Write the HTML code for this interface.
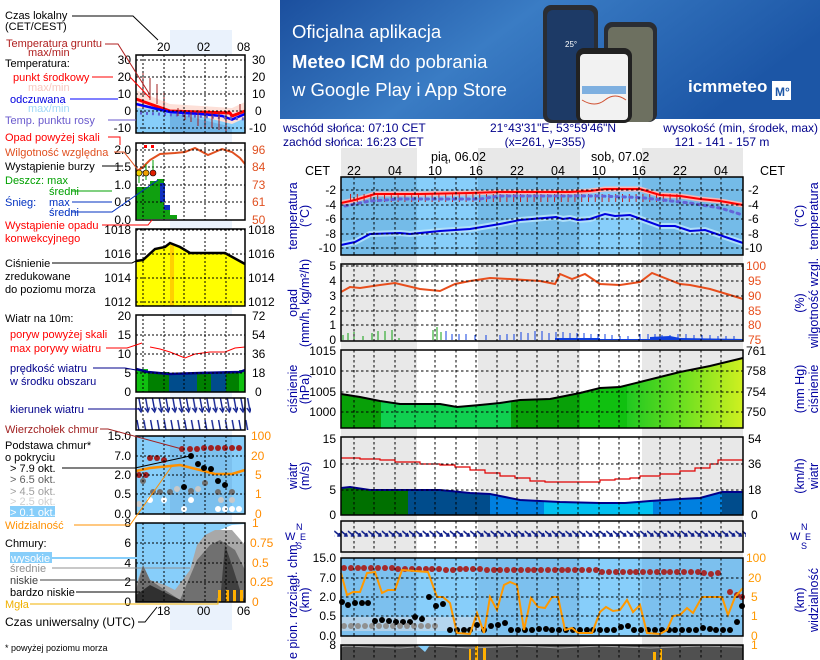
<!DOCTYPE html>
<html><head><meta charset="utf-8"><style>
html,body{margin:0;padding:0;background:#fff;}
svg{display:block;font-family:"Liberation Sans",sans-serif;}
</style></head><body>
<svg width="820" height="660" viewBox="0 0 820 660" xmlns="http://www.w3.org/2000/svg">
<defs>
<linearGradient id="bn" x1="0" y1="0" x2="1" y2="0.3"><stop offset="0" stop-color="#1b4f9e"/><stop offset="0.45" stop-color="#3a7cc4"/><stop offset="1" stop-color="#1c56a6"/></linearGradient>
<linearGradient id="pg" x1="0" y1="0" x2="1" y2="0"><stop offset="0" stop-color="#20c820"/><stop offset="0.5" stop-color="#70e020"/><stop offset="1" stop-color="#d0f020"/></linearGradient>
<pattern id="gt" x="350" y="0" width="6.8" height="10" patternUnits="userSpaceOnUse"><rect x="0" y="0" width="1" height="10" fill="#c02020"/></pattern>
<pattern id="wd" x="341" y="0" width="6.8" height="12" patternUnits="userSpaceOnUse"><path d="M0,3 L6,8 M3,8 L6,8 L5,5" stroke="#10208a" stroke-width="1.6" fill="none"/></pattern>
<pattern id="wdl" x="136" y="0" width="6.8" height="32" patternUnits="userSpaceOnUse"><path d="M1,4 L5,26 M2,24 L5,28 L7,23" stroke="#102090" stroke-width="1.4" fill="none"/></pattern>
<clipPath id="pc"><path d="M341,394 L360,397 380,401 400,404 440,404 457,407 480,405 500,403 520,400 550,399 580,393 600,388 620,387 640,382 680,372 710,366 743,358 L743,428 L341,428 Z"/></clipPath>
<clipPath id="wc"><path d="M341,488 L350,487 370,490 400,490 440,490 470,493 490,494 520,500 560,502 600,503 625,503 650,501 680,499 700,498 722,492 743,492 L743,515 L341,515 Z"/></clipPath>
</defs>

<rect x="280" y="0" width="540" height="119" fill="url(#bn)"/>
<text x="292" y="38" font-size="18.5" fill="#fff">Oficjalna aplikacja</text>
<text x="292" y="68" font-size="18.5" fill="#fff"><tspan font-weight="bold">Meteo ICM</tspan> do pobrania</text>
<text x="292" y="96" font-size="18.5" fill="#fff">w Google Play i App Store</text>
<rect x="543" y="5" width="55" height="118" rx="8" fill="#2a2d33"/>
<rect x="547" y="10" width="47" height="110" rx="6" fill="#1d3a66"/>
<text x="565" y="47" font-size="8" fill="#fff">25°</text>
<rect x="604" y="22" width="53" height="100" rx="8" fill="#2a2d33"/>
<rect x="608" y="27" width="45" height="95" rx="5" fill="#6d7060"/>
<rect x="576" y="48" width="56" height="75" rx="8" fill="#222"/>
<rect x="580" y="54" width="48" height="66" rx="4" fill="#f2f2f2"/>
<rect x="582" y="86" width="44" height="8" fill="#7fb0e0"/>
<path d="M582,100 Q595,108 605,100 T626,100" stroke="#d05030" fill="none"/>
<text x="688" y="92" font-size="17" font-weight="bold" fill="#fff">icmmeteo</text>
<rect x="772" y="81" width="19" height="19" fill="#fff"/>
<text x="775" y="96" font-size="12" font-weight="bold" fill="#1c56a6">M°</text>

<rect x="170" y="30" width="62" height="600" fill="#eaf2fc"/>

<rect x="136" y="55" width="109" height="78" fill="#fff"/>
<path d="M136,90 L170,104 L232,108 L245,102 L245,133 L136,133 Z" fill="#fde0d8"/>
<path d="M136,108 L170,110 L200,116 L232,124 L245,118 L245,133 L136,133 Z" fill="#87cefa"/>
<path d="M170,112 L232,127 L232,133 L170,133 Z" fill="#70b4e6"/>
<path d="M136,99 L170,111 L230,113 L232,116 L245,111" stroke="#ff0000" stroke-width="3" fill="none"/>
<path d="M136,104 L170,112 L200,114 L222,116 L232,119.5 L245,114" stroke="#0000ff" stroke-width="2.5" fill="none"/>
<path d="M140,113 L245,119" stroke="#6060d0" stroke-width="3" stroke-dasharray="2 4" fill="none"/>
<g stroke="#a02020" stroke-width="1"><path d="M143,73V96M150,78V100M157,84V104M164,92V108M178,108V116M185,110V120M191,112V122M198,110V126M205,110V128M212,112V128M219,112V130M226,112V133M240,104V114"/></g>
<g stroke="#000" stroke-dasharray="2 2" stroke-width="1"><path d="M143,55V133M164,55V133M184,55V133M205,55V133M226,55V133M136,60H245M136,77H245M136,94H245M136,111H245M136,128H245"/></g>
<rect x="136" y="55" width="109" height="78" fill="none" stroke="#000" stroke-width="1.5"/>

<rect x="136" y="143" width="109" height="77" fill="#fff"/>
<path d="M136,187 L150,187 L150,181 L157,181 L157,179 L164,179 L164,219 L136,219Z" fill="#10a010"/>
<path d="M160,183 L165,183 L165,202 L160,202 Z" fill="#1030c0"/>
<path d="M164,205 L170,205 L170,210 L164,210 Z" fill="#1030c0"/>
<path d="M164,210 L170,210 L170,215 L177,215 L177,219 L164,219Z" fill="#10a010"/>
<path d="M136,172 L143,167 L150,160 L160,154 L175,153 L185,152 L195,148 L208,155 L222,149 L232,152 L240,158 L245,164" stroke="#e05020" stroke-width="2" fill="none"/>
<g stroke="#000" stroke-dasharray="2 2"><path d="M143,143V220M164,143V220M184,143V220M205,143V220M226,143V220M136,150H245M136,167H245M136,185H245M136,202H245"/></g>
<g stroke="#00a000"><path d="M139,174V183M146,164V180M153,160V176"/></g>
<circle cx="139" cy="173" r="3" fill="#f0d000" stroke="#000" stroke-width=".6"/><circle cx="146" cy="173" r="3" fill="#f0a000" stroke="#000" stroke-width=".6"/><circle cx="153" cy="173" r="3" fill="#e02000" stroke="#000" stroke-width=".6"/>
<rect x="144" y="145" width="3" height="3" fill="#f00"/><rect x="151" y="145" width="3" height="3" fill="#f00"/>
<rect x="136" y="143" width="109" height="77" fill="none" stroke="#000" stroke-width="1.5"/>

<rect x="136" y="229" width="109" height="77" fill="#fff"/>
<path d="M136,261 L143,260 L155,249 L165,247 L170,243 L180,247 L190,253 L225,253 L245,264 L245,306 L136,306 Z" fill="#ffff00"/>
<rect x="170" y="245" width="4" height="61" fill="#ffd000"/>
<path d="M136,261 L143,260 L155,249 L165,247 L170,243 L180,247 L190,253 L225,253 L245,264" stroke="#000" stroke-width="2.5" fill="none"/>
<g stroke="#000" stroke-dasharray="2 2"><path d="M143,229V306M164,229V306M184,229V306M205,229V306M226,229V306M136,230H245M136,254H245M136,278H245M136,302H245"/></g>
<rect x="136" y="229" width="109" height="77" fill="none" stroke="#000" stroke-width="1.5"/>

<rect x="136" y="315" width="109" height="77" fill="#fff"/>
<rect x="136" y="369" width="12" height="23" fill="#10c010"/><rect x="148" y="372" width="21" height="20" fill="#008000"/>
<rect x="169" y="374" width="28" height="18" fill="#004c8c"/><rect x="197" y="373" width="14" height="19" fill="#008000"/>
<rect x="211" y="373" width="15" height="19" fill="#004c8c"/><rect x="226" y="372" width="13" height="20" fill="#008000"/><rect x="239" y="370" width="6" height="22" fill="#10c010"/>
<path d="M136,369 L148,372 L169,374 L200,373 L240,372 L245,370" stroke="#00008b" stroke-width="2.5" fill="none"/>
<path d="M150,347 L160,349 L170,352 L180,356 L185,358 L195,354 L210,352 L225,352 L235,348 L245,347" stroke="#f00" fill="none"/>
<g stroke="#000" stroke-dasharray="2 2"><path d="M143,315V392M164,315V392M184,315V392M205,315V392M226,315V392M136,335H245M136,354H245M136,373H245"/></g>
<rect x="136" y="315" width="109" height="77" fill="none" stroke="#000" stroke-width="1.5"/>

<rect x="136" y="398" width="109" height="32" fill="#fff"/>
<rect x="136" y="398" width="115" height="32" fill="url(#wdl)"/>
<g stroke="#000" stroke-dasharray="2 2"><path d="M143,398V430M164,398V430M184,398V430M205,398V430M226,398V430"/></g>
<rect x="136" y="398" width="109" height="32" fill="none" stroke="#000" stroke-width="1.5"/>

<rect x="136" y="436" width="109" height="78" fill="#87cefa"/>
<rect x="170" y="436" width="62" height="78" fill="#7cc0ee"/>
<path d="M136,471 L150,468 L170,466 L180,465 L200,470 L215,474 L232,474 L245,470" stroke="#ff9000" stroke-width="2.5" fill="none"/>
<g fill="#a02020"><circle cx="182" cy="449" r="3"/><circle cx="190" cy="449" r="3"/><circle cx="197" cy="449" r="3"/><circle cx="204" cy="448" r="3"/><circle cx="211" cy="448" r="3"/><circle cx="218" cy="448" r="3"/><circle cx="225" cy="448" r="3"/><circle cx="232" cy="448" r="3"/><circle cx="239" cy="448" r="3"/><circle cx="150" cy="458" r="3"/><circle cx="157" cy="458" r="3"/><circle cx="164" cy="460" r="3"/><circle cx="139" cy="475" r="3"/><circle cx="146" cy="475" r="3"/></g>
<g fill="#000"><circle cx="191" cy="456" r="3"/><circle cx="198" cy="464" r="3"/><circle cx="204" cy="468" r="3"/><circle cx="211" cy="469" r="3"/><circle cx="218" cy="481" r="3"/><circle cx="225" cy="485" r="3"/><circle cx="184" cy="487" r="3"/></g>
<g fill="#707070"><circle cx="153" cy="492" r="3"/><circle cx="160" cy="492" r="3"/><circle cx="170" cy="492" r="3"/><circle cx="191" cy="491" r="3"/><circle cx="205" cy="483" r="3"/><circle cx="218" cy="492" r="3"/><circle cx="232" cy="492" r="3"/><circle cx="143" cy="481" r="3"/></g>
<g fill="#c8c8c8"><circle cx="177" cy="489" r="3"/><circle cx="198" cy="489" r="3"/><circle cx="221" cy="500" r="3"/><circle cx="232" cy="500" r="3"/><circle cx="139" cy="504" r="3"/></g>
<g fill="#fff"><circle cx="150" cy="500" r="3"/><circle cx="164" cy="500" r="3"/><circle cx="184" cy="509" r="3"/><circle cx="191" cy="500" r="3"/><circle cx="218" cy="509" r="3"/><circle cx="225" cy="509" r="3"/><circle cx="232" cy="509" r="3"/><circle cx="239" cy="509" r="3"/></g>
<g stroke="#000" stroke-dasharray="2 2"><path d="M143,436V514M164,436V514M184,436V514M205,436V514M226,436V514M136,456H245M136,475H245M136,494H245"/></g>
<rect x="136" y="436" width="109" height="78" fill="none" stroke="#000" stroke-width="1.5"/>

<rect x="136" y="523" width="109" height="79" fill="#87cefa"/>
<path d="M180,602 L185,580 L200,560 L210,540 L220,530 L232,525 L245,524 L245,602 Z" fill="#fff"/>
<path d="M136,602 L136,585 L143,565 L150,580 L165,585 L175,590 L190,570 L197,545 L205,535 L215,530 L232,530 L245,545 L245,602 Z" fill="#a8a8a8"/>
<path d="M136,602 L136,590 L143,565 L150,580 L165,590 L180,600 L197,560 L210,545 L220,540 L235,550 L245,570 L245,602 Z" fill="#707070"/>
<path d="M136,602 L136,595 L150,585 L170,595 L185,602 Z" fill="#303030"/>
<path d="M225,545 L232,565 L240,590 L245,602 L220,602 Z" fill="#404040"/>
<g fill="#ffb000"><rect x="218" y="590" width="3" height="12"/><rect x="226" y="590" width="3" height="12"/><rect x="233" y="590" width="3" height="12"/><rect x="240" y="590" width="3" height="12"/></g>
<g stroke="#000" stroke-dasharray="2 2"><path d="M143,523V602M164,523V602M184,523V602M205,523V602M226,523V602M136,543H245M136,563H245M136,582H245"/></g>
<rect x="136" y="523" width="109" height="79" fill="none" stroke="#000" stroke-width="1.5"/>

<g font-size="11" fill="#000">
<text x="5" y="19">Czas lokalny</text><text x="5" y="30">(CET/CEST)</text>
<text x="6" y="47" fill="#b02020">Temperatura gruntu</text><text x="28" y="56" fill="#b02020">max/min</text>
<text x="5" y="67">Temperatura:</text>
<text x="13" y="81" fill="#ff0000">punkt środkowy</text>
<text x="28" y="91" fill="#f8c8c0">max/min</text>
<text x="10" y="103" fill="#0000e0">odczuwana</text>
<text x="28" y="112" fill="#a0d8f8">max/min</text>
<text x="5" y="124" fill="#6a5acd">Temp. punktu rosy</text>
<text x="5" y="141" fill="#ff0000">Opad powyżej skali</text>
<text x="5" y="156" fill="#e05020">Wilgotność względna</text>
<text x="5" y="170">Wystąpienie burzy</text>
<text x="5" y="184" fill="#00a000">Deszcz: max</text>
<text x="49" y="195" fill="#00a000">średni</text>
<text x="5" y="206" fill="#0030c0">Śnieg:</text><text x="49" y="206" fill="#0030c0">max</text>
<text x="49" y="216" fill="#0030c0">średni</text>
<text x="5" y="229" fill="#ff0000">Wystąpienie opadu</text>
<text x="5" y="242" fill="#ff0000">konwekcyjnego</text>
<text x="5" y="267">Ciśnienie</text><text x="5" y="280">zredukowane</text><text x="5" y="293">do poziomu morza</text>
<text x="5" y="322">Wiatr na 10m:</text>
<text x="10" y="338" fill="#ff0000">poryw powyżej skali</text>
<text x="10" y="352" fill="#ff0000">max porywy wiatru</text>
<text x="10" y="372" fill="#00008b">prędkość wiatru</text>
<text x="10" y="385" fill="#00008b">w środku obszaru</text>
<text x="10" y="413" fill="#00008b">kierunek wiatru</text>
<text x="5" y="433" fill="#a02020">Wierzchołek chmur</text>
<text x="5" y="449">Podstawa chmur*</text><text x="5" y="461">o pokryciu</text>
<text x="10" y="472">&gt; 7.9 okt.</text>
<text x="10" y="483" fill="#606060">&gt; 6.5 okt.</text>
<text x="10" y="495" fill="#a0a0a0">&gt; 4.5 okt.</text>
<text x="10" y="505" fill="#d0d0d0">&gt; 2.5 okt.</text>
<rect x="10" y="506" width="45" height="11" fill="#87cefa"/>
<text x="10" y="516" fill="#fff">&gt; 0.1 okt.</text>
<text x="5" y="529" fill="#ff9000">Widzialność</text>
<text x="5" y="547">Chmury:</text>
<rect x="10" y="552" width="42" height="11" fill="#87cefa"/>
<text x="11" y="562" fill="#fff">wysokie</text>
<text x="10" y="572" fill="#909090">średnie</text>
<text x="10" y="584" fill="#404040">niskie</text>
<text x="10" y="596">bardzo niskie</text>
<text x="5" y="608" fill="#f0b000">Mgła</text>
<text x="5" y="626" font-size="12">Czas uniwersalny (UTC)</text>
<text x="5" y="651" font-size="9">* powyżej poziomu morza</text>
<text x="157" y="51" font-size="12">20</text><text x="197" y="51" font-size="12">02</text><text x="237" y="51" font-size="12">08</text>
<text x="157" y="615" font-size="12">18</text><text x="197" y="615" font-size="12">00</text><text x="237" y="615" font-size="12">06</text>
</g>
<g font-size="12" text-anchor="end">
<text x="131" y="64">30</text><text x="131" y="81">20</text><text x="131" y="98">10</text><text x="131" y="115">0</text><text x="131" y="132">-10</text>
<text x="131" y="154">2.0</text><text x="131" y="171">1.5</text><text x="131" y="189">1.0</text><text x="131" y="206">0.5</text><text x="131" y="224">0.0</text>
<text x="131" y="234">1018</text><text x="131" y="258">1016</text><text x="131" y="282">1014</text><text x="131" y="306">1012</text>
<text x="131" y="320">20</text><text x="131" y="339">15</text><text x="131" y="358">10</text><text x="131" y="377">5</text><text x="131" y="396">0</text>
<text x="131" y="440">15.0</text><text x="131" y="460">7.0</text><text x="131" y="479">2.0</text><text x="131" y="498">0.5</text><text x="131" y="518">0.0</text>
<text x="131" y="527">8</text><text x="131" y="547">6</text><text x="131" y="567">4</text><text x="131" y="586">2</text><text x="131" y="606">0</text>
</g>
<g font-size="12">
<text x="252" y="64">30</text><text x="252" y="81">20</text><text x="252" y="98">10</text><text x="255" y="115">0</text><text x="249" y="132">-10</text>
<g fill="#e05020"><text x="252" y="154">96</text><text x="252" y="171">84</text><text x="252" y="189">73</text><text x="252" y="206">61</text><text x="252" y="224">50</text></g>
<text x="248" y="234">1018</text><text x="248" y="258">1016</text><text x="248" y="282">1014</text><text x="248" y="306">1012</text>
<text x="252" y="320">72</text><text x="252" y="339">54</text><text x="252" y="358">36</text><text x="252" y="377">18</text><text x="255" y="396">0</text>
<g fill="#ff8c00"><text x="251" y="440">100</text><text x="251" y="460">20</text><text x="255" y="479">5</text><text x="255" y="498">1</text><text x="255" y="518">0</text>
<text x="252" y="527">1</text><text x="250" y="547">0.75</text><text x="252" y="567">0.5</text><text x="250" y="586">0.25</text><text x="252" y="606">0</text></g>
</g>
<g fill="none" stroke-width="1">
<path d="M72,16 H133 L158,40" stroke="#000"/>
<path d="M105,44 H118 L150,95" stroke="#b02020"/>
<path d="M92,77 H113 M130,77 L150,98" stroke="#f00"/>
<path d="M70,99 H118" stroke="#00f"/>
<path d="M108,120 H136" stroke="#6a5acd"/>
<path d="M108,137 H120 V145" stroke="#f00"/>
<path d="M114,152 H124 L138,170" stroke="#e05020"/>
<path d="M102,166 H123" stroke="#000"/>
<path d="M72,191 H112" stroke="#00a000"/><path d="M72,212 H112 L158,180" stroke="#0030c0"/><path d="M72,202 H112" stroke="#0030c0"/>
<path d="M102,225 H148 L152,220" stroke="#f00"/>
<path d="M52,263 H132 L136,261" stroke="#000"/>
<path d="M106,348 H127 L142,343" stroke="#f00"/>
<path d="M93,368 H125 L136,370" stroke="#00008b"/>
<path d="M88,409 H140" stroke="#00008b"/>
<path d="M100,429 H108 L182,449" stroke="#a02020"/>
<path d="M62,468 H135 L190,456" stroke="#000"/>
<path d="M74,525 H130 L172,466" stroke="#ff9000"/>
<path d="M52,558 H180" stroke="#87cefa" stroke-width="2"/>
<path d="M52,568 H190" stroke="#909090"/><path d="M40,580 H136" stroke="#404040"/><path d="M76,592 H140" stroke="#000"/>
<path d="M30,604 H218 V598" stroke="#f0b000"/>
<path d="M138,622 H145 L157,607" stroke="#000"/>
</g>

<g font-size="12" fill="#00008b">
<text x="283" y="132">wschód słońca: 07:10 CET</text>
<text x="283" y="146">zachód słońca: 16:23 CET</text>
<text x="553" y="132" text-anchor="middle">21°43'31"E, 53°59'46"N</text>
<text x="545" y="146" text-anchor="middle">(x=261,  y=355)</text>
<text x="818" y="132" text-anchor="end">wysokość (min, środek, max)</text>
<text x="722" y="146" text-anchor="middle">121 - 141 - 157 m</text>
</g>
<rect x="341" y="148" width="76" height="512" fill="#e8e8e8"/>
<rect x="478" y="148" width="102" height="512" fill="#e8e8e8"/>
<rect x="642" y="148" width="101" height="512" fill="#e8e8e8"/>
<g font-size="12.5" fill="#000">
<text x="431" y="161">pią, 06.02</text><text x="591" y="161">sob, 07.02</text>
<text x="305" y="175">CET</text><text x="760" y="175">CET</text>
<g text-anchor="middle"><text x="354" y="175">22</text><text x="395" y="175">04</text><text x="435" y="175">10</text><text x="476" y="175">16</text><text x="517" y="175">22</text><text x="558" y="175">04</text><text x="599" y="175">10</text><text x="639" y="175">16</text><text x="680" y="175">22</text><text x="721" y="175">04</text></g>
</g>

<rect x="341" y="177" width="402" height="78" fill="#74bbe8"/>
<rect x="417" y="177" width="61" height="78" fill="#87cefa"/><rect x="580" y="177" width="62" height="78" fill="#87cefa"/>
<path d="M341,245 L355,242 370,234 400,233 410,234 440,231 470,229 500,224 520,220 556,217 563,219 570,218 578,220 590,219 605,214 615,216 630,215 660,226 675,226 690,231 705,230 743,243" stroke="#b0e0fa" stroke-width="6" fill="none"/>
<path d="M341,203 L355,200 375,194 420,194 470,193 500,192 540,192 570,192 590,191 605,189 640,189 660,195 680,196 700,199 720,201 743,205" stroke="#f8b8b8" stroke-width="5" fill="none"/>
<rect x="345" y="194" width="335" height="8" fill="url(#gt)"/>
<path d="M345,206 L370,201 L400,199 L480,199 L500,196 L600,196 L640,197.5 L690,203 L720,208 L743,215" stroke="#6464d8" stroke-width="3" stroke-dasharray="2.4 4.4" stroke-linecap="round" fill="none"/>
<path d="M341,203 L355,200 375,194 420,194 470,193 500,192 540,192 570,192 590,191 605,189 640,189 660,195 680,196 700,199 720,201 743,205" stroke="#ff0000" stroke-width="2" fill="none"/>
<path d="M341,245 L355,242 370,234 400,233 410,234 440,231 470,229 500,224 520,220 556,217 563,219 570,218 578,220 590,219 605,214 615,216 630,215 660,226 675,226 690,231 705,230 743,243" stroke="#0000e0" stroke-width="2" fill="none"/>

<path d="M341,292 L350,287 360,288 380,285 395,283 420,289 440,291 455,284 470,281 490,278 510,279 540,281 555,284 560,274 572,279 585,274 600,284 620,285 640,282 652,273 680,284 690,285 710,289 730,295 743,299" stroke="#e84e1c" stroke-width="2" fill="none"/>
<g stroke="#10a010"><path d="M343,340V335M348,340V333M354,340V332M363,340V336M372,340V333M378,340V331M385,340V331M392,340V330M399,340V338M433,340V330M437,340V327M441,340V332"/></g>
<g stroke="#1040e0"><path d="M446,340V331M452,340V334M459,340V334M466,340V334M475,340V335M486,340V335M500,340V335M507,340V334M514,340V334M521,340V332M528,340V333M535,340V331M542,340V331M549,340V333M556,340V332M563,340V332M570,340V333M577,340V333M584,340V333M591,340V334M598,340V334M605,340V334M612,340V335M620,340V336M628,340V336M640,340V334M648,340V334M655,340V334M662,340V335M670,340V335M678,340V334M686,340V334M694,340V335M702,340V335M710,340V335M718,340V336M726,340V336M734,340V336"/></g>
<path d="M555,340 L555,338 L600,338 L600,339 L650,339 L650,337 L670,336 L680,338 L743,339 L743,340Z" fill="#1040e0"/>

<g clip-path="url(#pc)">
<rect x="341" y="350" width="40" height="80" fill="#08a008"/>
<rect x="381" y="350" width="130" height="80" fill="#10d050"/>
<rect x="511" y="350" width="69" height="80" fill="#08a008"/>
<rect x="580" y="350" width="47" height="80" fill="#10c010"/>
<rect x="627" y="350" width="116" height="80" fill="url(#pg)"/>
</g>
<path d="M341,394 L360,397 380,401 400,404 440,404 457,407 480,405 500,403 520,400 550,399 580,393 600,388 620,387 640,382 680,372 710,366 743,358" stroke="#000" stroke-width="2" fill="none"/>

<g clip-path="url(#wc)">
<rect x="341" y="480" width="67" height="40" fill="#007000"/>
<rect x="408" y="480" width="82" height="40" fill="#004c8c"/>
<rect x="490" y="480" width="54" height="40" fill="#0080e0"/>
<rect x="544" y="480" width="109" height="40" fill="#00c0f0"/>
<rect x="653" y="480" width="69" height="40" fill="#0080e0"/>
<rect x="722" y="480" width="21" height="40" fill="#004c8c"/>
</g>
<path d="M341,488 L350,487 370,490 400,490 440,490 470,493 490,494 520,500 560,502 600,503 625,503 650,501 680,499 700,498 722,492 743,492" stroke="#00008b" stroke-width="2" fill="none"/>
<path d="M341,458 L360,458 360,459 380,459 380,460 395,460 395,462 420,462 420,464 440,464 440,465 455,465 455,467 470,467 470,470 485,470 485,473 500,473 500,476 515,476 515,478 530,478 530,481 545,481 545,482 600,482 600,480 615,480 615,479 630,479 630,478 640,478 640,476 660,476 660,474 680,474 680,471 695,471 695,468 710,468 710,464 718,464 718,460 743,460" stroke="#e00000" stroke-width="1.2" fill="none"/>

<rect x="334" y="530" width="412" height="12" fill="url(#wd)"/>

<rect x="341" y="558" width="402" height="78" fill="#7cc0ee"/>
<rect x="417" y="558" width="61" height="78" fill="#87cefa"/><rect x="580" y="558" width="62" height="78" fill="#87cefa"/>
<rect x="341" y="617" width="140" height="14" fill="#c8d8e8" opacity="0.7"/>
<g fill="#a52a2a">
<circle cx="344" cy="568" r="3"/><circle cx="351" cy="568" r="3"/><circle cx="358" cy="568" r="3"/><circle cx="364" cy="568" r="3"/><circle cx="371" cy="568" r="3"/><circle cx="378" cy="568" r="3"/><circle cx="385" cy="568" r="3"/><circle cx="392" cy="568" r="3"/><circle cx="398" cy="569" r="3"/><circle cx="405" cy="569" r="3"/><circle cx="412" cy="569" r="3"/><circle cx="419" cy="569" r="3"/><circle cx="426" cy="569" r="3"/><circle cx="432" cy="569" r="3"/><circle cx="439" cy="569" r="3"/><circle cx="446" cy="570" r="3"/><circle cx="453" cy="570" r="3"/><circle cx="460" cy="569" r="3"/><circle cx="466" cy="569" r="3"/><circle cx="473" cy="569" r="3"/><circle cx="480" cy="569" r="3"/><circle cx="487" cy="570" r="3"/><circle cx="494" cy="570" r="3"/><circle cx="500" cy="570" r="3"/><circle cx="507" cy="570" r="3"/><circle cx="514" cy="570" r="3"/><circle cx="521" cy="570" r="3"/><circle cx="528" cy="570" r="3"/><circle cx="534" cy="570" r="3"/><circle cx="541" cy="570" r="3"/><circle cx="548" cy="570" r="3"/><circle cx="555" cy="570" r="3"/><circle cx="562" cy="570" r="3"/><circle cx="568" cy="570" r="3"/><circle cx="575" cy="570" r="3"/><circle cx="582" cy="570" r="3"/><circle cx="589" cy="570" r="3"/><circle cx="596" cy="570" r="3"/><circle cx="602" cy="572" r="3"/><circle cx="609" cy="572" r="3"/><circle cx="616" cy="572" r="3"/><circle cx="623" cy="572" r="3"/><circle cx="630" cy="572" r="3"/><circle cx="636" cy="572" r="3"/><circle cx="643" cy="572" r="3"/><circle cx="650" cy="572" r="3"/><circle cx="657" cy="572" r="3"/><circle cx="664" cy="572" r="3"/><circle cx="670" cy="572" r="3"/><circle cx="677" cy="572" r="3"/><circle cx="684" cy="572" r="3"/><circle cx="691" cy="572" r="3"/><circle cx="698" cy="572" r="3"/><circle cx="704" cy="573" r="3"/><circle cx="711" cy="574" r="3"/><circle cx="718" cy="573" r="3"/><circle cx="730" cy="592" r="3"/><circle cx="737" cy="595" r="3"/><circle cx="742" cy="597" r="3"/>
</g>
<g fill="#000">
<circle cx="342" cy="602" r="3"/><circle cx="348" cy="605" r="3"/><circle cx="355" cy="603" r="3"/><circle cx="362" cy="603" r="3"/><circle cx="368" cy="603" r="3"/><circle cx="375" cy="621" r="3"/><circle cx="382" cy="620" r="3"/><circle cx="389" cy="621" r="3"/><circle cx="396" cy="622" r="3"/><circle cx="403" cy="622" r="3"/><circle cx="410" cy="622" r="3"/><circle cx="415" cy="617" r="3"/><circle cx="422" cy="619" r="3"/><circle cx="429" cy="597" r="3"/><circle cx="436" cy="606" r="3"/><circle cx="443" cy="604" r="3"/>
<circle cx="450" cy="630" r="3"/><circle cx="457" cy="630" r="3"/><circle cx="464" cy="630" r="3"/><circle cx="470" cy="630" r="3"/><circle cx="477" cy="625" r="3"/><circle cx="484" cy="630" r="3"/><circle cx="491" cy="626" r="3"/><circle cx="498" cy="625" r="3"/><circle cx="505" cy="623" r="3"/><circle cx="511" cy="630" r="3"/><circle cx="518" cy="630" r="3"/><circle cx="525" cy="630" r="3"/><circle cx="532" cy="630" r="3"/><circle cx="539" cy="629" r="3"/><circle cx="546" cy="629" r="3"/><circle cx="552" cy="630" r="3"/><circle cx="559" cy="630" r="3"/><circle cx="566" cy="630" r="3"/><circle cx="573" cy="630" r="3"/><circle cx="580" cy="630" r="3"/><circle cx="587" cy="630" r="3"/><circle cx="593" cy="630" r="3"/><circle cx="600" cy="630" r="3"/><circle cx="607" cy="630" r="3"/><circle cx="614" cy="630" r="3"/><circle cx="621" cy="627" r="3"/><circle cx="628" cy="626" r="3"/><circle cx="634" cy="630" r="3"/><circle cx="641" cy="630" r="3"/><circle cx="648" cy="630" r="3"/><circle cx="655" cy="630" r="3"/><circle cx="662" cy="630" r="3"/><circle cx="669" cy="630" r="3"/><circle cx="675" cy="630" r="3"/><circle cx="682" cy="630" r="3"/><circle cx="689" cy="630" r="3"/><circle cx="696" cy="630" r="3"/><circle cx="703" cy="628" r="3"/><circle cx="710" cy="629" r="3"/><circle cx="716" cy="630" r="3"/><circle cx="723" cy="630" r="3"/><circle cx="730" cy="630" r="3"/><circle cx="737" cy="622" r="3"/><circle cx="742" cy="606" r="3"/>
</g>
<g fill="#909090"><circle cx="344" cy="626" r="3"/><circle cx="351" cy="626" r="3"/><circle cx="358" cy="626" r="3"/><circle cx="365" cy="626" r="3"/><circle cx="372" cy="626" r="3"/><circle cx="379" cy="626" r="3"/><circle cx="386" cy="626" r="3"/><circle cx="393" cy="626" r="3"/><circle cx="400" cy="626" r="3"/><circle cx="407" cy="626" r="3"/><circle cx="414" cy="626" r="3"/><circle cx="421" cy="626" r="3"/><circle cx="428" cy="626" r="3"/><circle cx="435" cy="626" r="3"/></g>
<path d="M341,573 L347,595 353,592 360,592 367,573 375,572 382,593 388,590 395,590 402,570 428,572 437,597 443,597 450,603 457,633 470,634 477,613 484,633 490,597 497,610 504,585 510,582 517,585 524,630 531,598 538,607 545,608 552,597 558,597 565,630 572,628 578,633 592,633 600,612 606,607 613,611 620,610 627,600 633,612 640,605 647,633 660,634 667,630 673,616 680,615 687,608 693,613 702,597 722,597 728,615 735,597 743,588" stroke="#ff9900" stroke-width="2" fill="none"/>

<rect x="341" y="645" width="402" height="15" fill="#505050"/>
<path d="M341,647 L345,646 L400,648 L430,646 L470,648 L520,646 L560,648 L600,646 L650,648 L700,646 L743,647" stroke="#a0a0a0" fill="none"/>
<path d="M417,645 L430,645 L425,652 Z" fill="#87cefa"/>
<g fill="#ffb000"><rect x="469" y="649" width="2" height="11"/><rect x="475" y="646" width="3" height="14"/><rect x="483" y="648" width="3" height="12"/><rect x="653" y="652" width="3" height="8"/><rect x="660" y="649" width="2" height="11"/></g>

<g stroke="#000" stroke-width="1" stroke-dasharray="2.5 2.5" fill="none">
<path d="M354,177V255M374,177V255M395,177V255M415,177V255M435,177V255M456,177V255M476,177V255M497,177V255M517,177V255M537,177V255M558,177V255M578,177V255M599,177V255M619,177V255M639,177V255M660,177V255M680,177V255M701,177V255M721,177V255M341,190H743M341,205H743M341,219H743M341,234H743M341,248H743"/>
<path d="M354,264V341M374,264V341M395,264V341M415,264V341M435,264V341M456,264V341M476,264V341M497,264V341M517,264V341M537,264V341M558,264V341M578,264V341M599,264V341M619,264V341M639,264V341M660,264V341M680,264V341M701,264V341M721,264V341M341,266H743M341,281H743M341,296H743M341,311H743M341,325H743"/>
<path d="M354,350V428M374,350V428M395,350V428M415,350V428M435,350V428M456,350V428M476,350V428M497,350V428M517,350V428M537,350V428M558,350V428M578,350V428M599,350V428M619,350V428M639,350V428M660,350V428M680,350V428M701,350V428M721,350V428M341,371H743M341,392H743M341,412H743"/>
<path d="M354,437V515M374,437V515M395,437V515M415,437V515M435,437V515M456,437V515M476,437V515M497,437V515M517,437V515M537,437V515M558,437V515M578,437V515M599,437V515M619,437V515M639,437V515M660,437V515M680,437V515M701,437V515M721,437V515M341,464H743M341,490H743"/>
<path d="M354,521V552M374,521V552M395,521V552M415,521V552M435,521V552M456,521V552M476,521V552M497,521V552M517,521V552M537,521V552M558,521V552M578,521V552M599,521V552M619,521V552M639,521V552M660,521V552M680,521V552M701,521V552M721,521V552"/>
<path d="M354,558V636M374,558V636M395,558V636M415,558V636M435,558V636M456,558V636M476,558V636M497,558V636M517,558V636M537,558V636M558,558V636M578,558V636M599,558V636M619,558V636M639,558V636M660,558V636M680,558V636M701,558V636M721,558V636M341,578H743M341,597H743M341,616H743"/>
<path d="M354,645V660M374,645V660M395,645V660M415,645V660M435,645V660M456,645V660M476,645V660M497,645V660M517,645V660M537,645V660M558,645V660M578,645V660M599,645V660M619,645V660M639,645V660M660,645V660M680,645V660M701,645V660M721,645V660"/>
</g>
<g fill="none" stroke="#000" stroke-width="1.5">
<rect x="341" y="177" width="402" height="78"/><rect x="341" y="264" width="402" height="77"/><rect x="341" y="350" width="402" height="78"/><rect x="341" y="437" width="402" height="78"/><rect x="341" y="521" width="402" height="31"/><rect x="341" y="558" width="402" height="78"/><rect x="341" y="645" width="402" height="20"/>
</g>

<g font-size="12" fill="#000" text-anchor="end">
<text x="336" y="194">-2</text><text x="336" y="209">-4</text><text x="336" y="223">-6</text><text x="336" y="238">-8</text><text x="336" y="252">-10</text>
<text x="336" y="270">5</text><text x="336" y="285">4</text><text x="336" y="300">3</text><text x="336" y="315">2</text><text x="336" y="329">1</text><text x="336" y="344">0</text>
<text x="336" y="355">1015</text><text x="336" y="375">1010</text><text x="336" y="396">1005</text><text x="336" y="416">1000</text>
<text x="336" y="443">15</text><text x="336" y="468">10</text><text x="336" y="494">5</text><text x="336" y="519">0</text>
<text x="336" y="562">15.0</text><text x="336" y="582">7.0</text><text x="336" y="601">2.0</text><text x="336" y="620">0.5</text><text x="336" y="640">0.0</text>
<text x="336" y="649">8</text>
</g>
<g font-size="12" fill="#000">
<text x="748" y="194">-2</text><text x="748" y="209">-4</text><text x="748" y="223">-6</text><text x="748" y="238">-8</text><text x="745" y="252">-10</text>
<g fill="#e84e1c"><text x="746" y="270">100</text><text x="748" y="285">95</text><text x="748" y="300">90</text><text x="748" y="315">85</text><text x="748" y="329">80</text><text x="748" y="344">75</text></g>
<text x="746" y="355">761</text><text x="746" y="375">758</text><text x="746" y="396">754</text><text x="746" y="416">750</text>
<text x="748" y="443">54</text><text x="748" y="468">36</text><text x="748" y="494">18</text><text x="751" y="519">0</text>
<g fill="#ff9900"><text x="746" y="562">100</text><text x="748" y="582">20</text><text x="751" y="601">5</text><text x="751" y="620">1</text><text x="751" y="640">0</text><text x="751" y="649">1</text></g>
</g>
<g font-size="12.5" fill="#0000a0" text-anchor="middle">
<text transform="translate(297,216) rotate(-90)">temperatura</text><text transform="translate(309,216) rotate(-90)">(°C)</text>
<text transform="translate(804,216) rotate(-90)">(°C)</text><text transform="translate(818,216) rotate(-90)">temperatura</text>
<text transform="translate(297,303) rotate(-90)">opad</text><text transform="translate(309,303) rotate(-90)">(mm/h, kg/m²/h)</text>
<text transform="translate(804,303) rotate(-90)">(%)</text><text transform="translate(818,303) rotate(-90)">wilgotność wzgl.</text>
<text transform="translate(297,389) rotate(-90)">ciśnienie</text><text transform="translate(309,389) rotate(-90)">(hPa)</text>
<text transform="translate(804,389) rotate(-90)">(mm Hg)</text><text transform="translate(818,389) rotate(-90)">ciśnienie</text>
<text transform="translate(297,476) rotate(-90)">wiatr</text><text transform="translate(309,476) rotate(-90)">(m/s)</text>
<text transform="translate(804,476) rotate(-90)">(km/h)</text><text transform="translate(818,476) rotate(-90)">wiatr</text>
<text transform="translate(297,600) rotate(-90)">e pion. rozciągł. chm.</text><text transform="translate(309,600) rotate(-90)">(km)</text>
<text transform="translate(804,600) rotate(-90)">(km)</text><text transform="translate(818,600) rotate(-90)">widzialność</text>
</g>
<g font-size="11" fill="#0000a0">
<text x="285" y="540">W</text><text x="296" y="530" font-size="9">N</text><text x="296" y="549" font-size="9">S</text><text x="300" y="540" font-size="9">E</text>
<text x="790" y="540">W</text><text x="801" y="530" font-size="9">N</text><text x="801" y="549" font-size="9">S</text><text x="805" y="540" font-size="9">E</text>
</g>
</svg>
</body></html>
